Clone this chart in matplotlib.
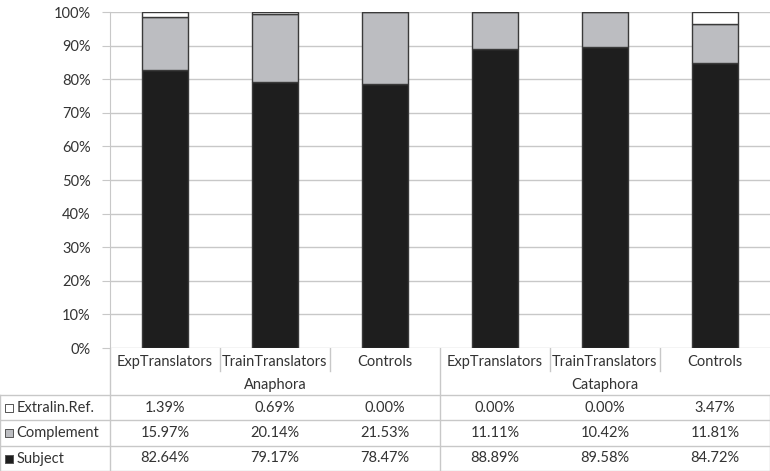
import numpy as np
import matplotlib.pyplot as plt
from matplotlib.ticker import PercentFormatter

plt.rcParams["font.family"] = ["Lato", "DejaVu Sans"]

# data
groups = ["Anaphora", "Cataphora"]
categories = ["ExpTranslators", "TrainTranslators", "Controls",
              "ExpTranslators", "TrainTranslators", "Controls"]
series = ["Extralin.Ref.", "Complement", "Subject"]
subject = [82.64, 79.17, 78.47, 88.89, 89.58, 84.72]
complement = [15.97, 20.14, 21.53, 11.11, 10.42, 11.81]
extralin = [1.39, 0.69, 0.00, 0.00, 0.00, 3.47]

colors = {"Subject": "#1e1e1e", "Complement": "#bcbdc1", "Extralin.Ref.": "#ffffff"}
edge = "#3a3a3a"
grid_c = "#c8c8c8"
text_c = "#333333"
fs = 10.5

W, H = 770, 471
fig = plt.figure(figsize=(W / 100, H / 100), dpi=100)

# main plot area
plot_left, plot_top, plot_bottom = 110, 12, 348
ax = fig.add_axes([plot_left / W, 1 - plot_bottom / H, 1 - plot_left / W,
                   (plot_bottom - plot_top) / H])
x = np.arange(len(categories)) + 0.5
bw = 0.41
sub = np.array(subject)
comp = np.array(complement)
ext = np.array(extralin)
ax.bar(x, sub, bw, color=colors["Subject"], edgecolor=edge, linewidth=1, zorder=3)
ax.bar(x, comp, bw, bottom=sub, color=colors["Complement"], edgecolor=edge,
       linewidth=1, zorder=3)
ax.bar(x, ext, bw, bottom=sub + comp, color=colors["Extralin.Ref."], edgecolor=edge,
       linewidth=1, zorder=3)

ax.set_xlim(0, len(categories))
ax.set_ylim(0, 100)
ax.set_yticks(np.arange(0, 101, 10))
ax.yaxis.set_major_formatter(PercentFormatter(decimals=0))
ax.set_xticks([])
ax.grid(axis="y", color=grid_c, linewidth=1, zorder=0)
for s in ["top", "right", "bottom"]:
    ax.spines[s].set_visible(False)
ax.spines["left"].set_color(grid_c)
ax.tick_params(axis="y", colors=grid_c, labelcolor=text_c, labelsize=fs,
               length=6, pad=8)

# data table below
tab = fig.add_axes([0, 0, 1, (H - plot_bottom) / H])
tab.set_xlim(-1, len(categories))
tab.set_ylim(0, H - plot_bottom)
tab.axis("off")

line_kw = dict(color=grid_c, linewidth=1)
row_lines = [76, 51, 25.5]  # heights from bottom (px)
for y in row_lines:
    tab.plot([-1, 6], [y, y], **line_kw)
tab.plot([-1, 6], [0.5, 0.5], **line_kw)
tab.plot([0, 0], [0, 123], **line_kw)
tab.plot([3, 3], [0, 123], **line_kw)
tab.plot([6, 6], [0, 76], **line_kw)
tab.plot([-1, -1], [0, 76], **line_kw)
for xs in [1, 2, 4, 5]:
    tab.plot([xs, xs], [100, 123], **line_kw)

for i, cat in enumerate(categories):
    tab.text(i + 0.5, 109, cat, ha="center", va="center", fontsize=fs, color=text_c)
for g, name in enumerate(groups):
    tab.text(g * 3 + 1.5, 86, name, ha="center", va="center", fontsize=fs, color=text_c)

rows = [("Extralin.Ref.", extralin, 63.5), ("Complement", complement, 38),
        ("Subject", subject, 12.5)]
for name, vals, yc in rows:
    tab.scatter([-0.915], [yc], marker="s", s=36, color=colors[name],
                edgecolor="#555555", linewidth=0.7)
    tab.text(-0.85, yc, name, ha="left", va="center", fontsize=fs, color=text_c)
    for i, v in enumerate(vals):
        tab.text(i + 0.5, yc, f"{v:.2f}%", ha="center", va="center",
                 fontsize=fs, color=text_c)

fig.savefig("out.png", dpi=100)
